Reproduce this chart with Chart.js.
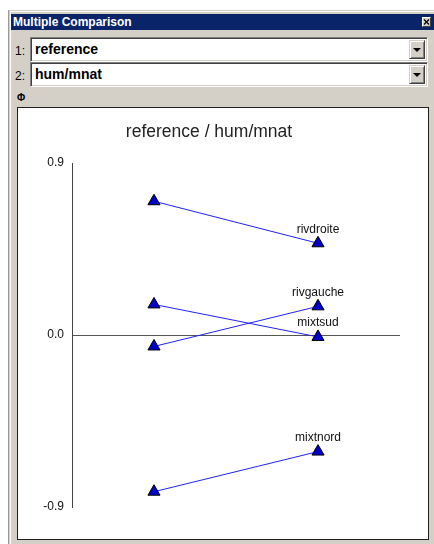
<!DOCTYPE html>
<html>
<head>
<meta charset="utf-8">
<script src="https://cdn.jsdelivr.net/npm/chart.js@4"></script>
<style>
    body { margin: 0; width: 434px; height: 544px; overflow: hidden; position: relative; background: #fff; font-family: Arial, "Liberation Sans", sans-serif; }
    .win { position: absolute; left: 8px; top: 10px; width: 430px; height: 540px; background: #d4d0c8;
           box-shadow: inset 1px 1px 0 #d4d0c8, inset 2px 2px 0 #fff; border-left: 1px solid #9a9a9a; }
    .titlebar { position: absolute; left: 11px; top: 14px; width: 423px; height: 16px; background: #0a246a; color: #fff;
                font: bold 12px "Liberation Sans", Arial, sans-serif; line-height: 16px; padding-left: 2px; box-sizing: border-box; }
    .close { position: absolute; left: 422px; top: 17px; width: 9px; height: 10px; background: #d4d0c8; box-sizing: border-box;
             border: 1px solid; border-color: #fff #404040 #404040 #fff; }
    .close svg { position: absolute; left: 0; top: 0; }
    .num { position: absolute; left: 15px; font-size: 12px; color: #000; line-height: 14px; }
    .combo { position: absolute; left: 30px; width: 398px; height: 25px; background: #fff; box-sizing: border-box;
             border: 1px solid; border-color: #808080 #fff #fff #808080; box-shadow: inset 1px 1px 0 #404040, inset -1px -1px 0 #d4d0c8;
             font: bold 14px Arial, "Liberation Sans", sans-serif; line-height: 23px; padding-left: 4px; color: #000; }
    .drop { position: absolute; right: 2px; top: 2px; width: 16px; height: 19px; background: #d4d0c8; box-sizing: border-box;
            border: 1px solid; border-color: #d4d0c8 #404040 #404040 #d4d0c8; box-shadow: inset 1px 1px 0 #fff, inset -1px -1px 0 #808080; }
    .drop::after { content: ""; position: absolute; left: 3px; top: 7px; border-left: 4px solid transparent; border-right: 4px solid transparent; border-top: 4px solid #000; }
    .phi { position: absolute; left: 17px; top: 92px; font-size: 10px; font-weight: bold; color: #000; }
    .panel { position: absolute; left: 17px; top: 107px; width: 412px; height: 433px; background: #fff; box-sizing: border-box;
             border: 1px solid #202020; }
    .chart-box { position: absolute; left: 18px; top: 108px; width: 392px; height: 430px; }
</style>
</head>
<body>
<div class="win"></div>
<div class="titlebar">Multiple Comparison</div>
<div class="close"><svg width="7" height="8"><path d="M1 1.5 L6 6.5 M6 1.5 L1 6.5" stroke="#000" stroke-width="1.2"/></svg></div>

<div class="num" style="top:44px">1:</div>
<div class="combo" style="top:37px">reference<span class="drop"></span></div>
<div class="num" style="top:69px">2:</div>
<div class="combo" style="top:62px">hum/mnat<span class="drop"></span></div>
<div class="phi">Φ</div>

<div class="panel"></div>
<div class="chart-box"><canvas id="compareChart"></canvas></div>

<script>
const categories = ['reference', 'hum/mnat'];
const groups = ['rivdroite', 'rivgauche', 'mixtsud', 'mixtnord'];
const referenceValues = [0.70, -0.06, 0.16, -0.82];
const humValues = [0.48, 0.15, -0.01, -0.61];
const tickValues = [-0.9, 0.0, 0.9];

document.addEventListener('DOMContentLoaded', function() {

    // group names written above the right-hand point of each line
    const pointLabels = {
        id: 'pointLabels',
        afterDatasetsDraw(chart) {
            const ctx = chart.ctx;
            ctx.save();
            ctx.font = '12px Arial';
            ctx.fillStyle = '#111';
            ctx.textAlign = 'center';
            ctx.textBaseline = 'middle';
            chart.data.datasets.forEach((ds, i) => {
                const pt = chart.getDatasetMeta(i).data[1];
                ctx.fillText(ds.label, pt.x, pt.y - 14);
            });
            ctx.restore();
        }
    };

    const datasets = groups.map((name, i) => ({
        label: name,
        data: [referenceValues[i], humValues[i]],
        borderColor: '#2020ff',
        borderWidth: 1,
        tension: 0,
        pointStyle: 'triangle',
        pointRadius: 7,
        pointBackgroundColor: '#0000c8',
        pointBorderColor: '#000',
        pointBorderWidth: 1,
        clip: false
    }));

    new Chart(document.getElementById('compareChart').getContext('2d'), {
        type: 'line',
        data: { labels: categories, datasets: datasets },
        options: {
            responsive: true,
            maintainAspectRatio: false,
            animation: false,
            events: [],
            layout: { padding: { left: 0, right: 10, top: 0, bottom: 31 } },
            plugins: {
                legend: { display: false },
                tooltip: { enabled: false },
                title: {
                    display: true,
                    text: 'reference / hum/mnat',
                    color: '#222',
                    font: { family: 'Arial', size: 17.5, weight: 'normal' },
                    padding: { top: 14, bottom: 20 }
                }
            },
            scales: {
                x: { type: 'category', display: false, offset: true },
                y: {
                    min: -0.9,
                    max: 0.9,
                    afterBuildTicks: scale => { scale.ticks = tickValues.map(v => ({ value: v })); },
                    afterFit: scale => { scale.width = 54; },
                    ticks: {
                        color: '#111',
                        padding: 8,
                        font: { family: 'Arial', size: 12 },
                        callback: v => Number(v).toFixed(1)
                    },
                    grid: {
                        drawTicks: false,
                        color: c => (c.tick && c.tick.value === 0) ? '#555' : 'rgba(0,0,0,0)'
                    },
                    border: { display: true, color: '#444' }
                }
            }
        },
        plugins: [pointLabels]
    });
});
</script>
</body>
</html>
